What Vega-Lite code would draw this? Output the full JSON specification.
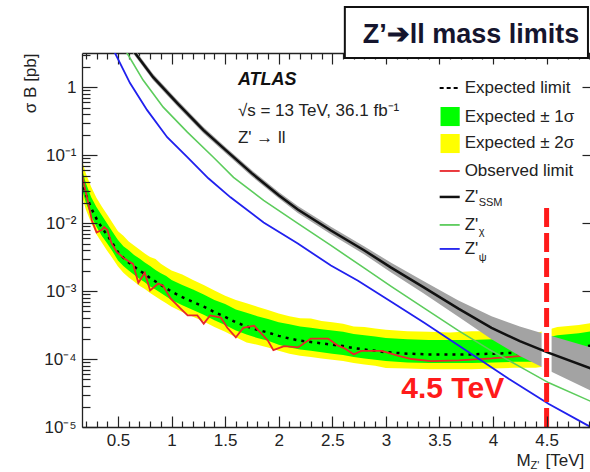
{
  "$schema": "https://vega.github.io/schema/vega-lite/v6.json",
  "autosize": {"type": "none"},
  "padding": {"left": 82, "top": 53, "right": 0, "bottom": 45},
  "width": 508,
  "height": 374,
  "background": "white",
  "config": {
    "view": {"stroke": null},
    "axis": {"domainColor": "#222", "tickColor": "#222", "labelColor": "#222", "labelFont": "Liberation Sans", "labelFontSize": 17, "titleFont": "Liberation Sans", "titleColor": "#222", "titleFontWeight": "normal", "grid": false, "domainWidth": 1.3, "tickWidth": 1.2, "labelFlush": false, "labelOverlap": false},
    "text": {"font": "Liberation Sans", "color": "#222"}
  },
  "resolve": {"axis": {"x": "independent", "y": "independent"}},
  "datasets": {
    "band": [
      {"m": 0.16, "e": 0.0437, "lo2": 0.0263, "lo1": 0.0331, "hi1": 0.0646, "hi2": 0.0871},
      {"m": 0.20, "e": 0.0263, "lo2": 0.0158, "lo1": 0.0200, "hi1": 0.0389, "hi2": 0.0537},
      {"m": 0.25, "e": 0.0166, "lo2": 0.0100, "lo1": 0.0126, "hi1": 0.0240, "hi2": 0.0339},
      {"m": 0.30, "e": 0.0115, "lo2": 0.00676, "lo1": 0.00871, "hi1": 0.0170, "hi2": 0.0234},
      {"m": 0.35, "e": 0.00851, "lo2": 0.00513, "lo1": 0.00646, "hi1": 0.0129, "hi2": 0.0174},
      {"m": 0.40, "e": 0.00661, "lo2": 0.00389, "lo1": 0.00501, "hi1": 0.00977, "hi2": 0.0132},
      {"m": 0.45, "e": 0.00501, "lo2": 0.00302, "lo1": 0.00380, "hi1": 0.00741, "hi2": 0.0100},
      {"m": 0.50, "e": 0.00372, "lo2": 0.00229, "lo1": 0.00282, "hi1": 0.00562, "hi2": 0.00759},
      {"m": 0.55, "e": 0.00309, "lo2": 0.00186, "lo1": 0.00234, "hi1": 0.00457, "hi2": 0.00650},
      {"m": 0.60, "e": 0.00263, "lo2": 0.00158, "lo1": 0.00200, "hi1": 0.00398, "hi2": 0.00537},
      {"m": 0.65, "e": 0.00229, "lo2": 0.00138, "lo1": 0.00174, "hi1": 0.00339, "hi2": 0.00468},
      {"m": 0.70, "e": 0.00200, "lo2": 0.00120, "lo1": 0.00151, "hi1": 0.00302, "hi2": 0.00407},
      {"m": 0.75, "e": 0.00178, "lo2": 0.00107, "lo1": 0.00135, "hi1": 0.00263, "hi2": 0.00355},
      {"m": 0.80, "e": 0.00155, "lo2": 0.000933, "lo1": 0.00117, "hi1": 0.00234, "hi2": 0.00316},
      {"m": 0.85, "e": 0.00138, "lo2": 0.000832, "lo1": 0.00105, "hi1": 0.00204, "hi2": 0.00295},
      {"m": 0.90, "e": 0.00123, "lo2": 0.000741, "lo1": 0.000933, "hi1": 0.00182, "hi2": 0.00251},
      {"m": 0.95, "e": 0.00110, "lo2": 0.000661, "lo1": 0.000832, "hi1": 0.00166, "hi2": 0.00224},
      {"m": 1.00, "e": 0.000977, "lo2": 0.000589, "lo1": 0.000741, "hi1": 0.00145, "hi2": 0.00200},
      {"m": 1.10, "e": 0.000813, "lo2": 0.000490, "lo1": 0.000617, "hi1": 0.00123, "hi2": 0.00175},
      {"m": 1.20, "e": 0.000692, "lo2": 0.000417, "lo1": 0.000525, "hi1": 0.00105, "hi2": 0.00145},
      {"m": 1.30, "e": 0.000589, "lo2": 0.000355, "lo1": 0.000447, "hi1": 0.000891, "hi2": 0.00123},
      {"m": 1.40, "e": 0.000490, "lo2": 0.000295, "lo1": 0.000372, "hi1": 0.000741, "hi2": 0.00102},
      {"m": 1.50, "e": 0.000417, "lo2": 0.000251, "lo1": 0.000316, "hi1": 0.000646, "hi2": 0.000850},
      {"m": 1.60, "e": 0.000347, "lo2": 0.000209, "lo1": 0.000263, "hi1": 0.000537, "hi2": 0.000741},
      {"m": 1.70, "e": 0.000302, "lo2": 0.000175, "lo1": 0.000229, "hi1": 0.000479, "hi2": 0.000661},
      {"m": 1.80, "e": 0.000269, "lo2": 0.000162, "lo1": 0.000204, "hi1": 0.000427, "hi2": 0.000589},
      {"m": 1.90, "e": 0.000245, "lo2": 0.000148, "lo1": 0.000186, "hi1": 0.000389, "hi2": 0.000525},
      {"m": 2.00, "e": 0.000219, "lo2": 0.000132, "lo1": 0.000162, "hi1": 0.000347, "hi2": 0.000468},
      {"m": 2.10, "e": 0.000200, "lo2": 0.000120, "lo1": 0.000148, "hi1": 0.000324, "hi2": 0.000427},
      {"m": 2.20, "e": 0.000186, "lo2": 0.000112, "lo1": 0.000138, "hi1": 0.000302, "hi2": 0.000398},
      {"m": 2.30, "e": 0.000178, "lo2": 0.000107, "lo1": 0.000132, "hi1": 0.000288, "hi2": 0.000395},
      {"m": 2.40, "e": 0.000170, "lo2": 0.000102, "lo1": 0.000126, "hi1": 0.000275, "hi2": 0.000363},
      {"m": 2.50, "e": 0.000162, "lo2": 0.0000977, "lo1": 0.000120, "hi1": 0.000263, "hi2": 0.000347},
      {"m": 2.60, "e": 0.000155, "lo2": 0.0000933, "lo1": 0.000115, "hi1": 0.000251, "hi2": 0.000331},
      {"m": 2.70, "e": 0.000145, "lo2": 0.0000871, "lo1": 0.000107, "hi1": 0.000234, "hi2": 0.000300},
      {"m": 2.80, "e": 0.000138, "lo2": 0.0000832, "lo1": 0.000102, "hi1": 0.000224, "hi2": 0.000295},
      {"m": 2.90, "e": 0.000132, "lo2": 0.0000794, "lo1": 0.0000977, "hi1": 0.000214, "hi2": 0.000282},
      {"m": 3.00, "e": 0.000126, "lo2": 0.0000740, "lo1": 0.0000933, "hi1": 0.000204, "hi2": 0.000269},
      {"m": 3.20, "e": 0.000120, "lo2": 0.0000724, "lo1": 0.0000891, "hi1": 0.000195, "hi2": 0.000257},
      {"m": 3.40, "e": 0.000117, "lo2": 0.0000708, "lo1": 0.0000871, "hi1": 0.000191, "hi2": 0.000251},
      {"m": 3.60, "e": 0.000117, "lo2": 0.0000708, "lo1": 0.0000871, "hi1": 0.000191, "hi2": 0.000245},
      {"m": 3.80, "e": 0.000117, "lo2": 0.0000708, "lo1": 0.0000871, "hi1": 0.000191, "hi2": 0.000257},
      {"m": 4.00, "e": 0.000120, "lo2": 0.0000724, "lo1": 0.0000891, "hi1": 0.000195, "hi2": 0.000257},
      {"m": 4.20, "e": 0.000123, "lo2": 0.0000741, "lo1": 0.0000912, "hi1": 0.000200, "hi2": 0.000263},
      {"m": 4.40, "e": 0.000123, "lo2": 0.0000741, "lo1": 0.0000912, "hi1": 0.000191, "hi2": 0.000240},
      {"m": 4.60, "e": 0.000138, "lo2": 0.0000832, "lo1": 0.000102, "hi1": 0.000224, "hi2": 0.000295},
      {"m": 4.80, "e": 0.000148, "lo2": 0.0000891, "lo1": 0.000110, "hi1": 0.000240, "hi2": 0.000316},
      {"m": 4.92, "e": 0.000158, "lo2": 0.0000955, "lo1": 0.000117, "hi1": 0.000257, "hi2": 0.000339}
    ],
    "obs": [
      {"m": 0.16, "v": 0.0550}, {"m": 0.21, "v": 0.0240}, {"m": 0.256, "v": 0.0110}, {"m": 0.30, "v": 0.00724},
      {"m": 0.35, "v": 0.00794}, {"m": 0.37, "v": 0.00871}, {"m": 0.40, "v": 0.00794}, {"m": 0.44, "v": 0.00501},
      {"m": 0.49, "v": 0.00372}, {"m": 0.566, "v": 0.00295}, {"m": 0.64, "v": 0.00251}, {"m": 0.69, "v": 0.00132},
      {"m": 0.75, "v": 0.00186}, {"m": 0.80, "v": 0.00102}, {"m": 0.875, "v": 0.00129}, {"m": 0.92, "v": 0.00120},
      {"m": 0.99, "v": 0.000776}, {"m": 1.08, "v": 0.000562}, {"m": 1.15, "v": 0.000437}, {"m": 1.24, "v": 0.000437},
      {"m": 1.30, "v": 0.000331}, {"m": 1.36, "v": 0.000437}, {"m": 1.46, "v": 0.000407}, {"m": 1.52, "v": 0.000288},
      {"m": 1.60, "v": 0.000209}, {"m": 1.67, "v": 0.000288}, {"m": 1.77, "v": 0.000309}, {"m": 1.90, "v": 0.000186},
      {"m": 1.95, "v": 0.000135}, {"m": 2.05, "v": 0.000155}, {"m": 2.18, "v": 0.000148}, {"m": 2.30, "v": 0.000200},
      {"m": 2.46, "v": 0.000200}, {"m": 2.55, "v": 0.000158}, {"m": 2.61, "v": 0.000145}, {"m": 2.70, "v": 0.000117},
      {"m": 2.77, "v": 0.000132}, {"m": 2.96, "v": 0.000132}, {"m": 3.11, "v": 0.000112}, {"m": 3.24, "v": 0.000100},
      {"m": 3.42, "v": 0.0000933}, {"m": 3.68, "v": 0.0000955}, {"m": 3.99, "v": 0.000102}, {"m": 4.24, "v": 0.000110},
      {"m": 4.50, "v": 0.000120}, {"m": 4.70, "v": 0.000126}, {"m": 4.92, "v": 0.000132}
    ],
    "ssm": [
      {"m": 0.60, "v": 4.21}, {"m": 0.659, "v": 3.17}, {"m": 0.828, "v": 1.40}, {"m": 1.053, "v": 0.581},
      {"m": 1.297, "v": 0.232}, {"m": 1.50, "v": 0.120}, {"m": 1.75, "v": 0.0537}, {"m": 2.00, "v": 0.0257},
      {"m": 2.178, "v": 0.0158}, {"m": 2.487, "v": 0.00776}, {"m": 2.796, "v": 0.00398}, {"m": 3.049, "v": 0.00221},
      {"m": 3.35, "v": 0.00114}, {"m": 3.677, "v": 0.000550}, {"m": 3.986, "v": 0.000288}, {"m": 4.25, "v": 0.000183},
      {"m": 4.521, "v": 0.000123}, {"m": 4.924, "v": 0.0000716}
    ],
    "ssmb": [
      {"m": 0.60, "lo": 3.79, "hi": 4.67}, {"m": 0.659, "lo": 2.86, "hi": 3.52}, {"m": 0.828, "lo": 1.265, "hi": 1.556},
      {"m": 1.053, "lo": 0.524, "hi": 0.644}, {"m": 1.297, "lo": 0.209, "hi": 0.258}, {"m": 1.50, "lo": 0.108, "hi": 0.133},
      {"m": 1.75, "lo": 0.0484, "hi": 0.0596}, {"m": 2.00, "lo": 0.0232, "hi": 0.0285}, {"m": 2.178, "lo": 0.0141, "hi": 0.0178},
      {"m": 2.487, "lo": 0.00684, "hi": 0.00881}, {"m": 2.796, "lo": 0.00347, "hi": 0.00457}, {"m": 3.049, "lo": 0.00188, "hi": 0.00260},
      {"m": 3.35, "lo": 0.000925, "hi": 0.00140}, {"m": 3.677, "lo": 0.000417, "hi": 0.000724}, {"m": 3.986, "lo": 0.000195, "hi": 0.000427},
      {"m": 4.25, "lo": 0.000111, "hi": 0.000300}, {"m": 4.521, "lo": 0.0000678, "hi": 0.000224}, {"m": 4.924, "lo": 0.0000335, "hi": 0.000146}
    ],
    "chi": [
      {"m": 0.55, "v": 3.89}, {"m": 0.584, "v": 3.17}, {"m": 0.734, "v": 1.268}, {"m": 0.922, "v": 0.507},
      {"m": 1.147, "v": 0.217}, {"m": 1.390, "v": 0.0929}, {"m": 1.578, "v": 0.0471}, {"m": 1.859, "v": 0.0215},
      {"m": 2.178, "v": 0.00986}, {"m": 2.487, "v": 0.00468}, {"m": 2.796, "v": 0.00219}, {"m": 3.049, "v": 0.00117},
      {"m": 3.35, "v": 0.000571}, {"m": 3.677, "v": 0.000261}, {"m": 3.986, "v": 0.000132}, {"m": 4.25, "v": 0.0000773},
      {"m": 4.521, "v": 0.0000446}, {"m": 4.924, "v": 0.0000234}
    ],
    "psi": [
      {"m": 0.44, "v": 3.98}, {"m": 0.472, "v": 3.17}, {"m": 0.612, "v": 1.146}, {"m": 0.772, "v": 0.458},
      {"m": 0.959, "v": 0.183}, {"m": 1.147, "v": 0.0929}, {"m": 1.343, "v": 0.0455}, {"m": 1.550, "v": 0.0239},
      {"m": 1.859, "v": 0.0102}, {"m": 2.178, "v": 0.00500}, {"m": 2.487, "v": 0.00237}, {"m": 2.740, "v": 0.00142},
      {"m": 3.05, "v": 0.000697}, {"m": 3.358, "v": 0.000342}, {"m": 3.827, "v": 0.000111}, {"m": 4.146, "v": 0.0000511},
      {"m": 4.521, "v": 0.0000218}, {"m": 4.896, "v": 0.0000103}, {"m": 4.95, "v": 0.0000091}
    ],
    "limit": [{"m": 4.5, "y0": 0.00001, "y1": 0.0172}]
  },
  "layer": [
    {
      "data": {"name": "band"},
      "mark": {"type": "area", "color": "#ffff00", "clip": true},
      "encoding": {
        "x": {"field": "m", "type": "quantitative", "scale": {"domain": [0.164, 4.905], "nice": false, "zero": false},
          "axis": {"orient": "bottom", "values": [0.5, 1, 1.5, 2, 2.5, 3, 3.5, 4, 4.5], "format": "~g", "tickSize": -11, "labelPadding": 16, "title": null, "zindex": 1}},
        "y": {"field": "lo2", "type": "quantitative", "scale": {"type": "log", "domain": [0.00001, 3.17], "nice": false},
          "axis": {"orient": "left", "values": [0.00001, 0.0001, 0.001, 0.01, 0.1, 1], "tickSize": -15, "labelPadding": 21, "zindex": 1,
            "labelExpr": "datum.value >= 0.99 ? '1' : datum.value >= 0.099 ? '10⁻¹' : datum.value >= 0.0099 ? '10⁻²' : datum.value >= 0.00099 ? '10⁻³' : datum.value >= 0.000099 ? '10⁻⁴' : '10⁻⁵'",
            "title": "σ B [pb]", "titleFontSize": 17, "titleX": -52, "titleY": 0, "titleAngle": -90, "titleAlign": "right", "titleBaseline": "middle"}},
        "y2": {"field": "hi2"}
      }
    },
    {
      "data": {"name": "band"},
      "mark": {"type": "area", "color": "#00ff00", "clip": true},
      "encoding": {
        "x": {"field": "m", "type": "quantitative", "scale": {"domain": [0.164, 4.905], "nice": false, "zero": false},
          "axis": {"orient": "bottom", "values": [0.2,0.3,0.4,0.6,0.7,0.8,0.9,1.1,1.2,1.3,1.4,1.6,1.7,1.8,1.9,2.1,2.2,2.3,2.4,2.6,2.7,2.8,2.9,3.1,3.2,3.3,3.4,3.6,3.7,3.8,3.9,4.1,4.2,4.3,4.4,4.6,4.7,4.8,4.9], "labels": false, "domain": false, "tickSize": -6, "title": null, "zindex": 1}},
        "y": {"field": "lo1", "type": "quantitative", "scale": {"type": "log", "domain": [0.00001, 3.17], "nice": false},
          "axis": {"orient": "left", "values": [0.00002,0.00003,0.00004,0.00005,0.00006,0.00007,0.00008,0.00009,0.0002,0.0003,0.0004,0.0005,0.0006,0.0007,0.0008,0.0009,0.002,0.003,0.004,0.005,0.006,0.007,0.008,0.009,0.02,0.03,0.04,0.05,0.06,0.07,0.08,0.09,0.2,0.3,0.4,0.5,0.6,0.7,0.8,0.9,2,3], "labels": false, "domain": false, "tickSize": -8, "title": null, "zindex": 1}},
        "y2": {"field": "hi1"}
      }
    },
    {
      "data": {"name": "band"},
      "mark": {"type": "line", "color": "#000000", "strokeDash": [3, 5], "strokeWidth": 2.5, "clip": true},
      "encoding": {
        "x": {"field": "m", "type": "quantitative", "scale": {"domain": [0.164, 4.905], "nice": false, "zero": false},
          "axis": {"orient": "top", "values": [0.5, 1, 1.5, 2, 2.5, 3, 3.5, 4, 4.5], "labels": false, "tickSize": -11, "title": null}},
        "y": {"field": "e", "type": "quantitative", "scale": {"type": "log", "domain": [0.00001, 3.17], "nice": false},
          "axis": {"orient": "right", "values": [0.00001, 0.0001, 0.001, 0.01, 0.1, 1], "labels": false, "domain": false, "tickSize": -8, "title": null}}
      }
    },
    {
      "data": {"name": "obs"},
      "mark": {"type": "line", "color": "#e8262b", "strokeWidth": 1.8, "clip": true},
      "encoding": {
        "x": {"field": "m", "type": "quantitative", "scale": {"domain": [0.164, 4.905], "nice": false, "zero": false},
          "axis": {"orient": "top", "values": [0.2,0.3,0.4,0.6,0.7,0.8,0.9,1.1,1.2,1.3,1.4,1.6,1.7,1.8,1.9,2.1,2.2,2.3,2.4,2.6,2.7,2.8,2.9,3.1,3.2,3.3,3.4,3.6,3.7,3.8,3.9,4.1,4.2,4.3,4.4,4.6,4.7,4.8,4.9], "labels": false, "domain": false, "tickSize": -6, "title": null}},
        "y": {"field": "v", "type": "quantitative", "scale": {"type": "log", "domain": [0.00001, 3.17], "nice": false}, "axis": null}
      }
    },
    {
      "data": {"name": "ssmb"},
      "mark": {"type": "area", "color": "#a3a3a3", "clip": true},
      "encoding": {
        "x": {"field": "m", "type": "quantitative", "axis": null},
        "y": {"field": "lo", "type": "quantitative", "scale": {"type": "log"}, "axis": null},
        "y2": {"field": "hi"}
      }
    },
    {
      "data": {"name": "limit"},
      "mark": {"type": "rule", "color": "#ffffff", "strokeWidth": 10},
      "encoding": {
        "x": {"field": "m", "type": "quantitative", "axis": null},
        "y": {"field": "y0", "type": "quantitative", "scale": {"type": "log"}, "axis": null},
        "y2": {"field": "y1"}
      }
    },
    {
      "data": {"name": "ssm"},
      "mark": {"type": "line", "color": "#111111", "strokeWidth": 2.5, "clip": true},
      "encoding": {
        "x": {"field": "m", "type": "quantitative", "axis": null},
        "y": {"field": "v", "type": "quantitative", "scale": {"type": "log"}, "axis": null}
      }
    },
    {
      "data": {"name": "chi"},
      "mark": {"type": "line", "color": "#5ccc5c", "strokeWidth": 1.6, "clip": true},
      "encoding": {
        "x": {"field": "m", "type": "quantitative", "axis": null},
        "y": {"field": "v", "type": "quantitative", "scale": {"type": "log"}, "axis": null}
      }
    },
    {
      "data": {"name": "psi"},
      "mark": {"type": "line", "color": "#2020ee", "strokeWidth": 1.8, "clip": true},
      "encoding": {
        "x": {"field": "m", "type": "quantitative", "axis": null},
        "y": {"field": "v", "type": "quantitative", "scale": {"type": "log"}, "axis": null}
      }
    },
    {
      "data": {"name": "limit"},
      "mark": {"type": "rule", "color": "#ff1a1a", "strokeWidth": 5, "strokeDash": [19, 6]},
      "encoding": {
        "x": {"field": "m", "type": "quantitative", "axis": null},
        "y": {"field": "y0", "type": "quantitative", "scale": {"type": "log"}, "axis": null},
        "y2": {"field": "y1"}
      }
    },
    {
      "data": {"values": [{"x": 2.617, "x2": 4.886, "y": 2.67, "y2": 15.0}]},
      "mark": {"type": "rect", "fill": "#ffffff", "stroke": "#111111", "strokeWidth": 2},
      "encoding": {
        "x": {"field": "x", "type": "quantitative", "axis": null},
        "x2": {"field": "x2"},
        "y": {"field": "y", "type": "quantitative", "scale": {"type": "log"}, "axis": null},
        "y2": {"field": "y2"}
      }
    },
    {
      "data": {"values": [{"x": 2.784, "y": 5.83, "t": "Z’➔ll mass limits"}]},
      "mark": {"type": "text", "fontWeight": "bold", "fontSize": 27, "align": "left", "baseline": "middle", "color": "#15152e"},
      "encoding": {
        "x": {"field": "x", "type": "quantitative", "axis": null},
        "y": {"field": "y", "type": "quantitative", "scale": {"type": "log"}, "axis": null},
        "text": {"field": "t"}
      }
    },
    {
      "data": {"values": [{"x": 1.619, "y": 1.27, "t": "ATLAS"}]},
      "mark": {"type": "text", "fontWeight": "bold", "fontStyle": "italic", "fontSize": 18, "align": "left", "baseline": "middle", "color": "#111111"},
      "encoding": {
        "x": {"field": "x", "type": "quantitative", "axis": null},
        "y": {"field": "y", "type": "quantitative", "scale": {"type": "log"}, "axis": null},
        "text": {"field": "t"}
      }
    },
    {
      "data": {"values": [
        {"x": 1.619, "y": 0.445, "t": "√s = 13 TeV, 36.1 fb⁻¹"},
        {"x": 1.619, "y": 0.178, "t": "Z' → ll"},
        {"x": 3.735, "y": 0.968, "t": "Expected limit"},
        {"x": 3.735, "y": 0.363, "t": "Expected ± 1σ"},
        {"x": 3.735, "y": 0.150, "t": "Expected ± 2σ"},
        {"x": 3.735, "y": 0.0583, "t": "Observed limit"},
        {"x": 3.735, "y": 0.0242, "t": "Z'"},
        {"x": 3.735, "y": 0.00938, "t": "Z'"},
        {"x": 3.735, "y": 0.00416, "t": "Z'"},
        {"x": 4.22, "y": 0.00000317, "t": "M"},
        {"x": 4.49, "y": 0.00000317, "t": "[TeV]"}
      ]},
      "mark": {"type": "text", "fontSize": 17, "align": "left", "baseline": "middle"},
      "encoding": {
        "x": {"field": "x", "type": "quantitative", "axis": null},
        "y": {"field": "y", "type": "quantitative", "scale": {"type": "log"}, "axis": null},
        "text": {"field": "t"}
      }
    },
    {
      "data": {"values": [
        {"x": 3.866, "y": 0.0197, "t": "SSM"},
        {"x": 3.866, "y": 0.0074, "t": "χ"},
        {"x": 3.866, "y": 0.00306, "t": "ψ"},
        {"x": 4.35, "y": 0.00000267, "t": "Z'"}
      ]},
      "mark": {"type": "text", "fontSize": 11, "align": "left", "baseline": "middle"},
      "encoding": {
        "x": {"field": "x", "type": "quantitative", "axis": null},
        "y": {"field": "y", "type": "quantitative", "scale": {"type": "log"}, "axis": null},
        "text": {"field": "t"}
      }
    },
    {
      "data": {"values": [{"x": 3.624, "y": 0.0000363, "t": "4.5 TeV"}]},
      "mark": {"type": "text", "fontWeight": "bold", "fontSize": 30, "align": "center", "baseline": "middle", "color": "#ff1a1a"},
      "encoding": {
        "x": {"field": "x", "type": "quantitative", "axis": null},
        "y": {"field": "y", "type": "quantitative", "scale": {"type": "log"}, "axis": null},
        "text": {"field": "t"}
      }
    },
    {
      "data": {"values": [{"x": 3.51, "x2": 3.689, "y": 0.107, "y2": 0.204}]},
      "mark": {"type": "rect", "fill": "#ffff00"},
      "encoding": {
        "x": {"field": "x", "type": "quantitative", "axis": null},
        "x2": {"field": "x2"},
        "y": {"field": "y", "type": "quantitative", "scale": {"type": "log"}, "axis": null},
        "y2": {"field": "y2"}
      }
    },
    {
      "data": {"values": [{"x": 3.51, "x2": 3.689, "y": 0.267, "y2": 0.509}]},
      "mark": {"type": "rect", "fill": "#00ff00"},
      "encoding": {
        "x": {"field": "x", "type": "quantitative", "axis": null},
        "x2": {"field": "x2"},
        "y": {"field": "y", "type": "quantitative", "scale": {"type": "log"}, "axis": null},
        "y2": {"field": "y2"}
      }
    },
    {
      "data": {"values": [{"x": 3.502, "x2": 3.689, "y": 0.968}]},
      "mark": {"type": "rule", "color": "#000000", "strokeWidth": 2, "strokeDash": [4, 3]},
      "encoding": {
        "x": {"field": "x", "type": "quantitative", "axis": null},
        "x2": {"field": "x2"},
        "y": {"field": "y", "type": "quantitative", "scale": {"type": "log"}, "axis": null}
      }
    },
    {
      "data": {"values": [{"x": 3.502, "x2": 3.689, "y": 0.0583}]},
      "mark": {"type": "rule", "color": "#e8262b", "strokeWidth": 1.8},
      "encoding": {
        "x": {"field": "x", "type": "quantitative", "axis": null},
        "x2": {"field": "x2"},
        "y": {"field": "y", "type": "quantitative", "scale": {"type": "log"}, "axis": null}
      }
    },
    {
      "data": {"values": [{"x": 3.502, "x2": 3.689, "y": 0.0242}]},
      "mark": {"type": "rule", "color": "#111111", "strokeWidth": 2.5},
      "encoding": {
        "x": {"field": "x", "type": "quantitative", "axis": null},
        "x2": {"field": "x2"},
        "y": {"field": "y", "type": "quantitative", "scale": {"type": "log"}, "axis": null}
      }
    },
    {
      "data": {"values": [{"x": 3.502, "x2": 3.689, "y": 0.00938}]},
      "mark": {"type": "rule", "color": "#5ccc5c", "strokeWidth": 1.8},
      "encoding": {
        "x": {"field": "x", "type": "quantitative", "axis": null},
        "x2": {"field": "x2"},
        "y": {"field": "y", "type": "quantitative", "scale": {"type": "log"}, "axis": null}
      }
    },
    {
      "data": {"values": [{"x": 3.502, "x2": 3.689, "y": 0.00416}]},
      "mark": {"type": "rule", "color": "#2020ee", "strokeWidth": 1.8},
      "encoding": {
        "x": {"field": "x", "type": "quantitative", "axis": null},
        "x2": {"field": "x2"},
        "y": {"field": "y", "type": "quantitative", "scale": {"type": "log"}, "axis": null}
      }
    }
  ]
}
